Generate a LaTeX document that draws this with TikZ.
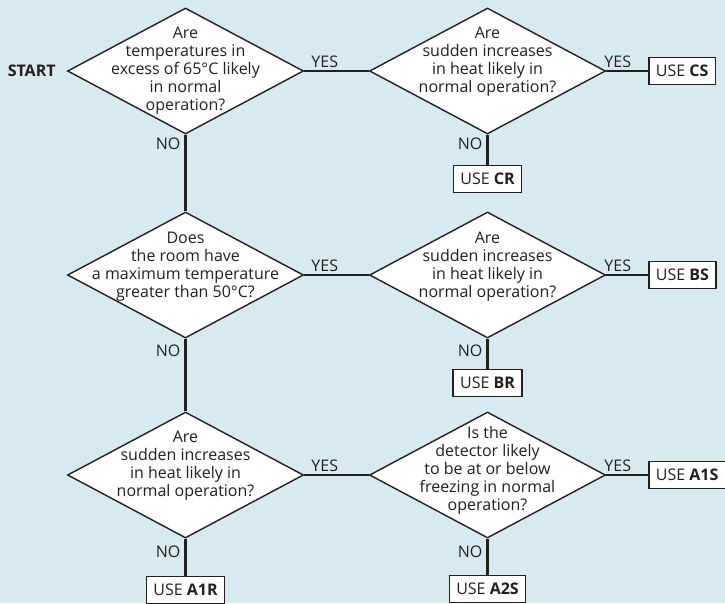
\documentclass[tikz,border=0pt]{standalone}
\usepackage{fontspec}
\setmainfont{Open Sans}
\usetikzlibrary{shapes.geometric}
\definecolor{bg}{RGB}{216,234,241}
\definecolor{ink}{RGB}{35,31,32}
\newcommand{\myfs}{\fontsize{16}{18}\selectfont}
\begin{document}
\begin{tikzpicture}[x=1pt,y=-1pt,
  dia/.style={diamond, draw=ink, fill=white, line width=1.4pt, minimum width=236pt, minimum height=126pt, inner sep=0pt},
  qtext/.style={align=center, font=\myfs, text=ink, inner sep=0pt, anchor=north},
  lbl/.style={font=\myfs, text=ink, inner sep=0pt},
  usebox/.style={draw=ink, fill=white, line width=1.3pt, minimum height=27pt, inner xsep=7pt, inner ysep=0pt, font=\myfs, text=ink},
  conn/.style={draw=ink, line width=2.6pt}]
\useasboundingbox (0,0) rectangle (725,603);
\fill[bg] (0,0) rectangle (725,603);
% diamonds
\node[dia] (d1) at (185.5,71) {};
\node[dia] (d2) at (487.5,71) {};
\node[dia] (d3) at (185.5,275) {};
\node[dia] (d4) at (487.5,275) {};
\node[dia] (d5) at (185.5,475) {};
\node[dia] (d6) at (487.5,475) {};
% question texts
\node[qtext] (t1) at ([yshift=44pt]d1.center) {Are\\temperatures in\\excess of 65°C likely\\in normal\\operation?};
\node[qtext] (t2) at ([yshift=44pt]d2.center) {Are\\sudden increases\\in heat likely in\\normal operation?};
\node[qtext] (t3) at ([yshift=43pt]d3.center) {Does\\the room have\\a maximum temperature\\greater than 50°C?};
\node[qtext] (t4) at ([yshift=43pt]d4.center) {Are\\sudden increases\\in heat likely in\\normal operation?};
\node[qtext] (t5) at ([yshift=44pt]d5.center) {Are\\sudden increases\\in heat likely in\\normal operation?};
\node[qtext] (t6) at ([yshift=49pt]d6.center) {Is the\\detector likely\\to be at or below\\freezing in normal\\operation?};
% start
\node[lbl, font=\myfs\bfseries, anchor=east] (start) at ([xshift=-11pt]d1.west) {START};
% result boxes
\node[usebox, anchor=west] (cs) at ([xshift=42pt]d2.east) {USE \textbf{CS}};
\node[usebox, anchor=north] (cr) at ([yshift=-30pt]d2.south) {USE \textbf{CR}};
\node[usebox, anchor=west] (bs) at ([xshift=42pt]d4.east) {USE \textbf{BS}};
\node[usebox, anchor=north] (br) at ([yshift=-30pt]d4.south) {USE \textbf{BR}};
\node[usebox, anchor=west] (a1s) at ([xshift=42pt]d6.east) {USE \textbf{A1S}};
\node[usebox, anchor=north] (a2s) at ([yshift=-36pt]d6.south) {USE \textbf{A2S}};
\node[usebox, anchor=north] (a1r) at ([yshift=-37pt]d5.south) {USE \textbf{A1R}};
% connectors
\draw[conn] (d1.east) -- (d2.west);
\draw[conn] (d2.east) -- (cs.west);
\draw[conn] (d2.south) -- (cr.north);
\draw[conn] (d1.south) -- (d3.north);
\draw[conn] (d3.east) -- (d4.west);
\draw[conn] (d4.east) -- (bs.west);
\draw[conn] (d4.south) -- (br.north);
\draw[conn] (d3.south) -- (d5.north);
\draw[conn] (d5.east) -- (d6.west);
\draw[conn] (d6.east) -- (a1s.west);
\draw[conn] (d6.south) -- (a2s.north);
\draw[conn] (d5.south) -- (a1r.north);
% YES labels
\node[lbl, anchor=base west] (y1) at ([xshift=7pt,yshift=4pt]d1.east) {YES};
\node[lbl, anchor=base west] (y2) at ([xshift=-2pt,yshift=4pt]d2.east) {YES};
\node[lbl, anchor=base west] (y3) at ([xshift=7pt,yshift=4pt]d3.east) {YES};
\node[lbl, anchor=base west] (y4) at ([xshift=-2pt,yshift=4pt]d4.east) {YES};
\node[lbl, anchor=base west] (y5) at ([xshift=7pt,yshift=4pt]d5.east) {YES};
\node[lbl, anchor=base west] (y6) at ([xshift=-2pt,yshift=4pt]d6.east) {YES};
% NO labels
\node[lbl, anchor=base east] (n1) at ([xshift=-5pt,yshift=-15pt]d1.south) {NO};
\node[lbl, anchor=base east] (n2) at ([xshift=-5pt,yshift=-15pt]d2.south) {NO};
\node[lbl, anchor=base east] (n3) at ([xshift=-5pt,yshift=-18pt]d3.south) {NO};
\node[lbl, anchor=base east] (n4) at ([xshift=-5pt,yshift=-18pt]d4.south) {NO};
\node[lbl, anchor=base east] (n5) at ([xshift=-5pt,yshift=-19pt]d5.south) {NO};
\node[lbl, anchor=base east] (n6) at ([xshift=-5pt,yshift=-19pt]d6.south) {NO};
\end{tikzpicture}
\end{document}
